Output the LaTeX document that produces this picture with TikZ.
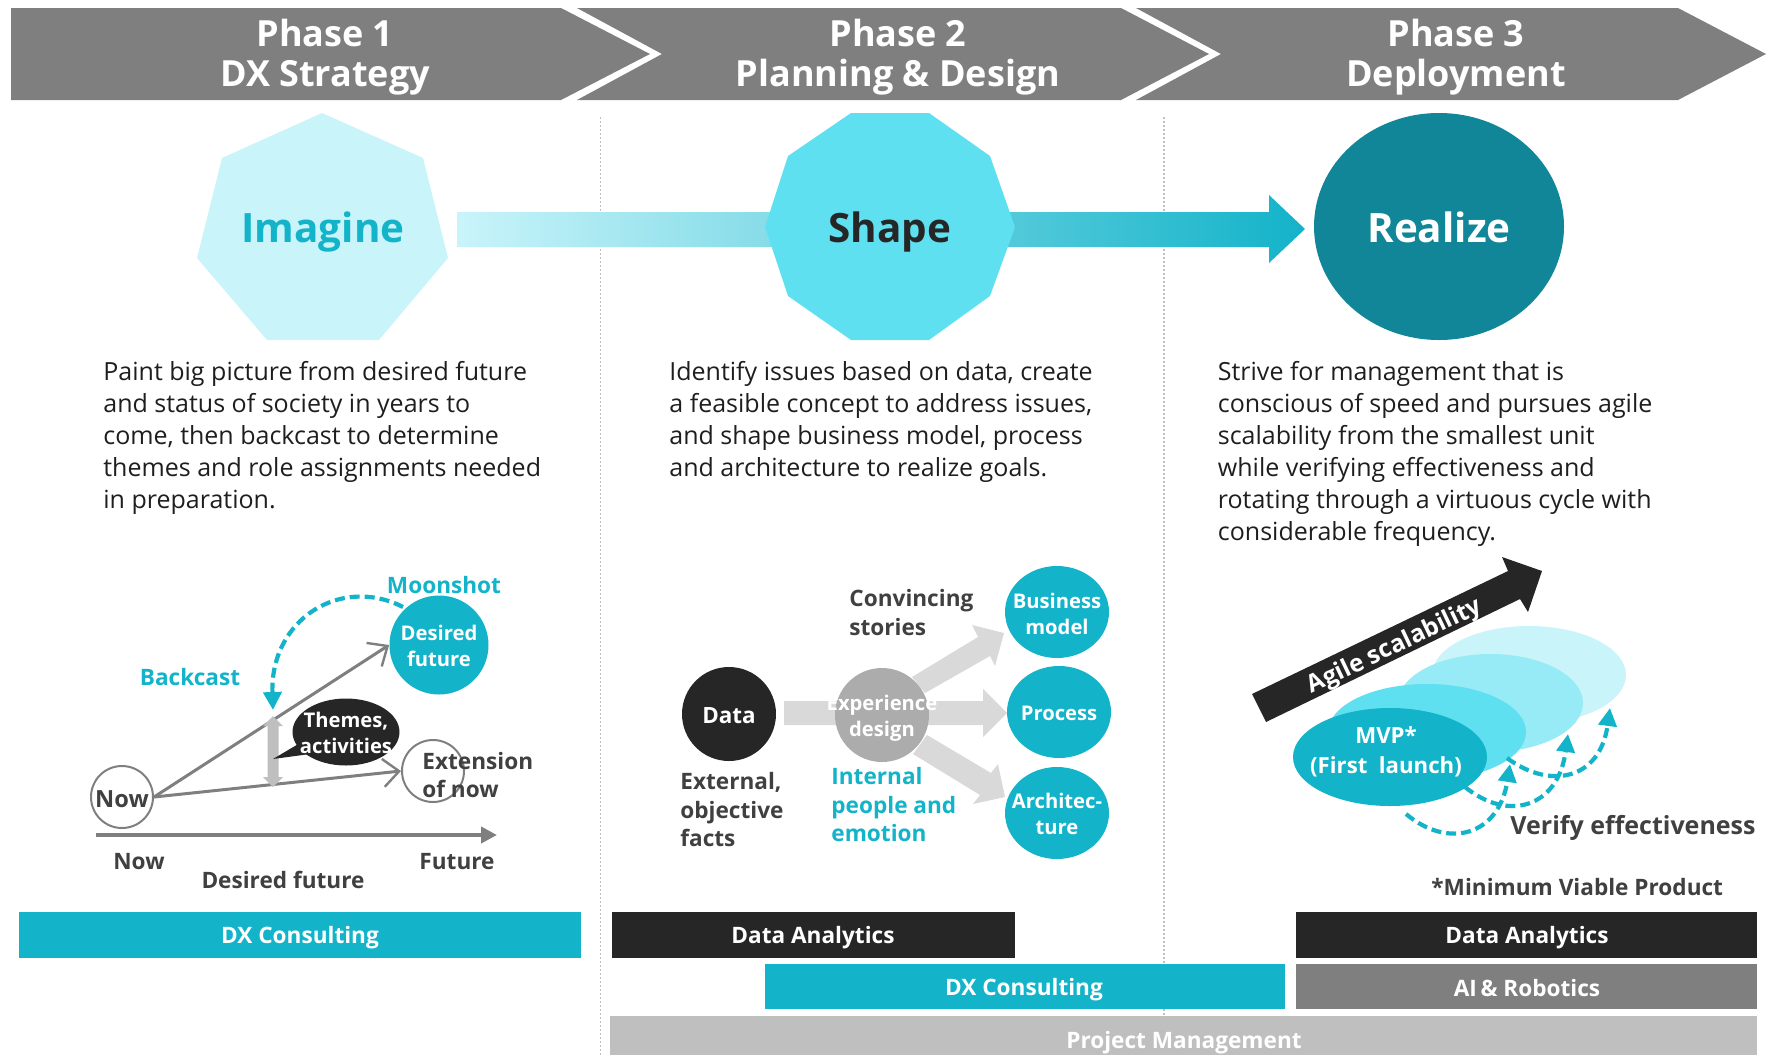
\documentclass[tikz,border=0pt]{standalone}
\usepackage{fontspec}
\setmainfont{Open Sans}
\usetikzlibrary{arrows.meta,shapes.geometric}
\definecolor{teal1}{HTML}{13B3C9}
\definecolor{teal2}{HTML}{5FE0F0}
\definecolor{teal3}{HTML}{96EBF6}
\definecolor{teal4}{HTML}{C9F4FA}
\definecolor{teald}{HTML}{108698}
\definecolor{ink}{HTML}{262626}
\definecolor{gr5}{HTML}{7F7F7F}
\definecolor{gr7}{HTML}{BFBFBF}
\definecolor{gr8}{HTML}{D9D9D9}
\definecolor{txt}{HTML}{404040}
\tikzset{
  head/.style={font=\fontsize{18}{20}\selectfont\bfseries,text=white,align=center,inner sep=0pt},
  big/.style={font=\fontsize{20.2}{24}\selectfont\bfseries,inner sep=0pt,anchor=base},
  body/.style={font=\fontsize{12.5}{16}\selectfont,text=ink!80!black,align=left,anchor=north west,inner sep=0pt},
  lab/.style={font=\fontsize{11.3}{14.3}\selectfont\bfseries,text=txt,inner sep=0pt,align=left},
  tlab/.style={lab,text=teal1},
  wlab/.style={font=\fontsize{10.1}{13}\selectfont\bfseries,text=white,inner sep=0pt,align=center},
  barbox/.style={font=\fontsize{11.3}{12}\selectfont\bfseries,text=white,inner sep=0pt},
  dotline/.style={draw=gr7,line width=0.6pt,dash pattern=on 1pt off 1pt},
  thinc/.style={circle,draw=gr5,line width=1pt,minimum size=31pt,inner sep=0pt},
  disc/.style={ellipse,inner sep=0pt,fill=teal1},
  openarrow/.style={draw=gr5,line width=1.5pt,-{Straight Barb[length=8pt,width=14pt,line width=1.2pt]}},
  dasharc/.style={draw=teal1,line width=2.1pt,dash pattern=on 5pt off 2.5pt,-{Triangle[length=9pt,width=9pt]}},
}
\begin{document}
\begin{tikzpicture}[x=0.5pt,y=-0.5pt]
\useasboundingbox (0,0) rectangle (1771,1055);
% chevrons
\fill[gr5] (11,8)--(561,8)--(650,54)--(561,100)--(11,100)--cycle;
\fill[gr5] (577,8)--(1121,8)--(1209,54)--(1121,100)--(577,100)--(662,54)--cycle;
\fill[gr5] (1136,8)--(1678,8)--(1766,54)--(1678,100)--(1136,100)--(1221,54)--cycle;
\node[head] (ph1) at (325,57) {Phase 1\\DX Strategy};
\node[head] (ph2) at (898,57) {Phase 2\\Planning \& Design};
\node[head] (ph3) at (1456,57) {Phase 3\\Deployment};
% dotted separators
\coordinate (s1a) at (600.5,117); \coordinate (s1b) at (600.5,1055);
\coordinate (s2a) at (1164,117); \coordinate (s2b) at (1164,1016);
\draw[dotline] (s1a)--(s1b);
\draw[dotline] (s2a)--(s2b);
% flow arrow
\path[left color=teal4,middle color=teal3!75!teal2,right color=teal1]
  (457,212)--(1269,212)--(1269,195)--(1305,229)--(1269,263)--(1269,247)--(457,247)--cycle;
% heptagon, decagon, ellipse
\fill[teal4] (322,113)--(423,158)--(448,258)--(379,340)--(267,340)--(197,258)--(222,158)--cycle;
\node[big,text=teal1] (imagine) at (323,242) {Imagine};
\fill[teal2] (851,113)--(929,113)--(990,156)--(1015,227)--(990,296)--(929,340)--(851,340)--(788,296)--(765,227)--(788,156)--cycle;
\node[big,text=ink] (shape) at (890,242) {Shape};
\node[ellipse,fill=teald,minimum width=125pt,minimum height=113.5pt,inner sep=0pt] (realizeE) at (1439,226.5) {};
\node[big,text=white] (realize) at (1439,242) {Realize};
% body text
\node[body] (d1) at (103,361) {Paint big picture from desired future\\and status of society in years to\\come, then backcast to determine\\themes and role assignments needed\\in preparation.};
\node[body] (d2) at (669,361) {Identify issues based on data, create\\a feasible concept to address issues,\\and shape business model, process\\and architecture to realize goals.};
\node[body] (d3) at (1217.5,361) {Strive for management that is\\conscious of speed and pursues agile\\scalability from the smallest unit\\while verifying effectiveness and\\rotating through a virtuous cycle with\\considerable frequency.};
% left diagram
\node[thinc] (now) at (122,797) {};
\node[lab,font=\fontsize{11.8}{14}\selectfont\bfseries] (nowt) at (122,799) {Now};
\node[disc,minimum width=49.5pt,minimum height=49.5pt] (des) at (439,645) {};
\node[wlab] (dest) at (439,646) {Desired\\future};
\node[thinc] (ext) at (433,771) {};
\draw[openarrow] (now.east)--(des.west);
\draw[openarrow] (now.east)--(ext.west);
\fill[gr7] (273,716)--(283,726)--(278.5,726)--(278.5,777)--(283,777)--(273,787)--(263,777)--(267.5,777)--(267.5,726)--(263,726)--cycle;
\node[ellipse,fill=ink,minimum width=53.5pt,minimum height=33.5pt,inner sep=0pt] (bub) at (346,732) {};
\fill[ink] (300,743)--(273,759)--(310,754)--cycle;
\node[wlab] (bubt) at (346,733) {Themes,\\activities};
\node[lab,anchor=west] (extt) at (422,775) {Extension\\of now};
\coordinate (tl0) at (96,835); \coordinate (tl1) at (497,835);
\draw[draw=gr5,line width=2pt,-{Triangle[length=8pt,width=8pt]}] (tl0)--(tl1);
\node[lab] (t1) at (139,862) {Now};
\node[lab] (t2) at (457,862) {Future};
\node[lab] (t3) at (283,880) {Desired future};
\node[tlab] (bc) at (190,677) {Backcast};
\node[tlab] (ms) at (444,585) {Moonshot};
\coordinate (m0) at (403,607); \coordinate (m1) at (273,710);
\draw[dasharc] (m0) .. controls (340,575) and (270,620) .. (m1);
% middle diagram
\fill[gr8] (784,701)--(983,701)--(983,689)--(1007,713)--(983,737)--(983,725)--(784,725)--cycle;
\fill[gr8] (912,677)--(978,637)--(972,625)--(1004,633)--(995,666)--(990,656)--(925,693)--cycle;
\fill[gr8] (927,735)--(991,773)--(998,764)--(1005,797)--(973,804)--(980,795)--(913,754)--cycle;
\node[circle,fill=ink,minimum size=47pt,inner sep=0pt] (data) at (729,714) {};
\node[wlab,font=\fontsize{11.2}{12}\selectfont\bfseries] (datat) at (729,716) {Data};
\node[circle,fill=gr7!70!gr5,minimum size=47pt,inner sep=0pt] (exp) at (882,715) {};
\node[wlab] (expt) at (882,718) {Experience\\design};
\node[disc,minimum width=52pt,minimum height=46pt] (c1) at (1057,612) {};
\node[wlab] (c1t) at (1057,614) {Business\\model};
\node[disc,minimum width=52pt,minimum height=46pt] (c2) at (1059,712) {};
\node[wlab] (c2t) at (1059,713) {Process};
\node[disc,minimum width=52pt,minimum height=46pt] (c3) at (1057,813) {};
\node[wlab] (c3t) at (1057,814) {Architec-\\ture};
\node[lab,anchor=north west,font=\fontsize{11.3}{14.6}\selectfont\bfseries] (conv) at (849,589) {Convincing\\stories};
\node[lab,anchor=north west] (ext2) at (680,772) {External,\\objective\\facts};
\node[tlab,anchor=north west] (intl) at (831,767) {Internal\\people and\\emotion};
% right diagram
\fill[ink] (1252,694)--(1508,571)--(1502,557)--(1542,571)--(1528,612)--(1520,599)--(1266,722)--cycle;
\node[font=\fontsize{12.2}{14}\selectfont\bfseries,text=white,inner sep=0pt,rotate=25.5] (agile) at (1395,647) {Agile scalability};
\node[ellipse,fill=teal4,minimum width=97pt,minimum height=49pt,inner sep=0pt] (e4) at (1529,675) {};
\node[ellipse,fill=teal3,minimum width=92.5pt,minimum height=49pt,inner sep=0pt] (e3) at (1490.5,703) {};
\node[ellipse,fill=teal2,minimum width=99pt,minimum height=48pt,inner sep=0pt] (e2) at (1427,732) {};
\node[disc,minimum width=97pt,minimum height=49pt] (e1) at (1390,757) {};
\node[wlab,font=\fontsize{11.1}{14.8}\selectfont\bfseries] (mvp) at (1386,752) {MVP*\\(First\ \ launch)};
\coordinate (a1s) at (1406,814); \coordinate (a1e) at (1510,764);
\coordinate (a2s) at (1465,787); \coordinate (a2e) at (1568,734);
\coordinate (a3s) at (1507,758); \coordinate (a3e) at (1610,708);
\draw[dasharc] (a1s) .. controls (1449,850) and (1499,835) .. (a1e);
\draw[dasharc] (a2s) .. controls (1508,822) and (1558,808) .. (a2e);
\draw[dasharc] (a3s) .. controls (1550,790) and (1600,780) .. (a3e);
\node[lab,anchor=west,font=\fontsize{12.5}{14}\selectfont\bfseries] (ver) at (1510,828) {Verify effectiveness};
\node[lab,anchor=west] (mvpn) at (1431,887) {*Minimum Viable Product};
% bars
\fill[teal1] (19,912) rectangle (580.5,958);
\node[barbox] (b1) at (300,938) {DX Consulting};
\fill[ink] (612,912) rectangle (1015,958);
\node[barbox] (b2) at (813,938) {Data Analytics};
\fill[teal1] (765,964) rectangle (1285,1009);
\node[barbox] (b3) at (1024,990) {DX Consulting};
\fill[ink] (1296,912) rectangle (1757,958);
\node[barbox] (b4) at (1527,938) {Data Analytics};
\fill[gr5] (1296,964) rectangle (1757,1009);
\node[barbox] (b5) at (1527,988) {AI\,\& Robotics};
\fill[gr7] (610,1016) rectangle (1757,1055);
\node[barbox] (b6) at (1184,1043) {Project Management};
\end{tikzpicture}
\end{document}
